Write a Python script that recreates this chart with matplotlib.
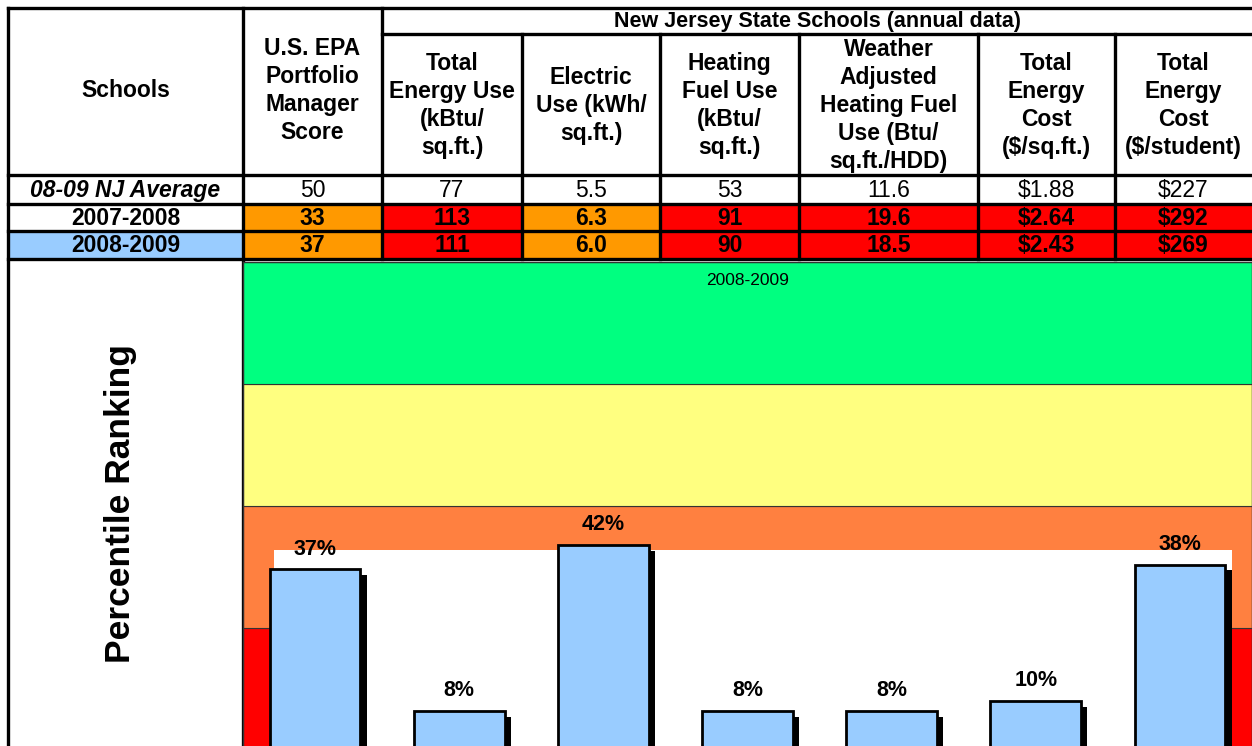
import matplotlib.pyplot as plt
import matplotlib.patheffects as pe
from matplotlib.patches import Rectangle

plt.rcParams['font.family'] = ['Liberation Sans', 'DejaVu Sans']
plt.rcParams['text.parse_math'] = False

# table data
headers = ["Schools",
           "U.S. EPA\nPortfolio\nManager\nScore",
           "Total\nEnergy Use\n(kBtu/\nsq.ft.)",
           "Electric\nUse (kWh/\nsq.ft.)",
           "Heating\nFuel Use\n(kBtu/\nsq.ft.)",
           "Weather\nAdjusted\nHeating Fuel\nUse (Btu/\nsq.ft./HDD)",
           "Total\nEnergy\nCost\n($/sq.ft.)",
           "Total\nEnergy\nCost\n($/student)"]
group_title = "New Jersey State Schools (annual data)"
row_names = ["08-09 NJ Average", "2007-2008", "2008-2009"]
nj_average = ["50", "77", "5.5", "53", "11.6", "$1.88", "$227"]
values_0708 = ["33", "113", "6.3", "91", "19.6", "$2.64", "$292"]
values_0809 = ["37", "111", "6.0", "90", "18.5", "$2.43", "$269"]
colors_0708 = ["#FF9900", "#FF0000", "#FF9900", "#FF0000", "#FF0000", "#FF0000", "#FF0000"]
colors_0809 = ["#FF9900", "#FF0000", "#FF9900", "#FF0000", "#FF0000", "#FF0000", "#FF0000"]
row_name_colors = ["white", "white", "#99CCFF"]

# chart data
metrics = ["EPA Score", "Total Energy Use", "Electric Use", "Heating Fuel Use",
           "Weather Adj. Heating", "Cost/sq.ft.", "Cost/student"]
percentiles = [37, 8, 42, 8, 8, 10, 38]
bands = [(0, 25, "#FF0000"), (25, 50, "#FF8040"), (50, 75, "#FFFF80"), (75, 100, "#00FF80")]

W, H = 1252, 746
fig = plt.figure(figsize=(W / 100, H / 100), dpi=100)

# pixel-space axes for the table
tab = fig.add_axes([0, 0, 1, 1])
tab.set_xlim(0, W)
tab.set_ylim(H, 0)
tab.axis('off')

col_x = [8, 243, 382, 522, 660, 799, 978, 1115, 1252]
y_top, y_group, y_head, y_r1, y_r2, y_r3 = 8, 34, 175, 204, 231, 259
lw = 2.4

rows = [nj_average, values_0708, values_0809]
row_colors = [["white"] * 7, colors_0708, colors_0809]
row_y = [(y_head, y_r1), (y_r1, y_r2), (y_r2, y_r3)]
for r, (vals, cols, (ya, yb)) in enumerate(zip(rows, row_colors, row_y)):
    tab.add_patch(Rectangle((col_x[0], ya), col_x[1] - col_x[0], yb - ya,
                            facecolor=row_name_colors[r], edgecolor='none'))
    style = 'italic' if r == 0 else 'normal'
    tab.text((col_x[0] + col_x[1]) / 2, (ya + yb) / 2 + 1, row_names[r],
             ha='center', va='center', fontsize=16.5, fontweight='bold', fontstyle=style)
    for c, v in enumerate(vals):
        x0, x1 = col_x[c + 1], col_x[c + 2]
        tab.add_patch(Rectangle((x0, ya), x1 - x0, yb - ya, facecolor=cols[c], edgecolor='none'))
        tab.text((x0 + x1) / 2, (ya + yb) / 2 + 1, v, ha='center', va='center',
                 fontsize=16.5, fontweight='normal' if r == 0 else 'bold')

# header texts
tab.text((col_x[0] + col_x[1]) / 2, (y_top + y_head) / 2 - 1, headers[0],
         ha='center', va='center', fontsize=16.5, fontweight='bold')
tab.text((col_x[1] + col_x[2]) / 2, (y_top + y_head) / 2 - 1, headers[1],
         ha='center', va='center', fontsize=16.5, fontweight='bold', linespacing=1.27)
for c in range(2, 8):
    tab.text((col_x[c] + col_x[c + 1]) / 2, (y_group + y_head) / 2 + 1, headers[c],
             ha='center', va='center', fontsize=16.5, fontweight='bold', linespacing=1.27)
tab.text((col_x[2] + col_x[-1]) / 2, (y_top + y_group) / 2 + 1, group_title,
         ha='center', va='center', fontsize=15.5, fontweight='bold')

# grid lines
for y in [y_top, y_head, y_r1, y_r2, y_r3]:
    tab.plot([col_x[0], W], [y, y], color='black', lw=lw)
tab.plot([col_x[2], W], [y_group, y_group], color='black', lw=lw)
tab.plot([col_x[0], col_x[0]], [y_top, H], color='black', lw=lw)
tab.plot([col_x[1], col_x[1]], [y_top, H], color='black', lw=lw)
tab.plot([col_x[2], col_x[2]], [y_top, y_r3], color='black', lw=lw)
for x in col_x[3:-1]:
    tab.plot([x, x], [y_group, y_r3], color='black', lw=lw)

tab.text((col_x[0] + col_x[1]) / 2 - 5, 504, "Percentile Ranking", rotation=90,
         ha='center', va='center', fontsize=25.5, fontweight='bold')

# chart axes: 100% at y=262 px, 0% at y=750 px (just below the picture)
ax = fig.add_axes([243 / W, (H - 750) / H, (W - 243) / W, 488 / H])
ax.set_xlim(-0.5, 6.5)
ax.set_ylim(0, 100)
for lo, hi, col in bands:
    ax.axhspan(lo, hi, facecolor=col, edgecolor='#333333', lw=0.8, zorder=0)
ax.add_patch(Rectangle((0.031, 0), 0.949, 0.41, transform=ax.transAxes,
                       facecolor='white', edgecolor='none', zorder=1))
bars = ax.bar(range(len(percentiles)), percentiles, width=0.63, color='#99CCFF',
              edgecolor='black', linewidth=2, zorder=3)
for b in bars:
    b.set_path_effects([pe.SimplePatchShadow(offset=(4.5, -4), shadow_rgbFace='black', alpha=1),
                        pe.Normal()])
ax.bar_label(bars, labels=[f"{p}%" for p in percentiles], padding=7,
             fontsize=15.5, fontweight='bold', zorder=4)
ax.text(0.5, 0.962, "2008-2009", transform=ax.transAxes, ha='center', va='center',
        fontsize=12.5, zorder=4)
ax.set_xticks([])
ax.set_yticks([])
for s in ax.spines.values():
    s.set_color('#333333')
    s.set_linewidth(1)

fig.savefig('out.png', dpi=100)
